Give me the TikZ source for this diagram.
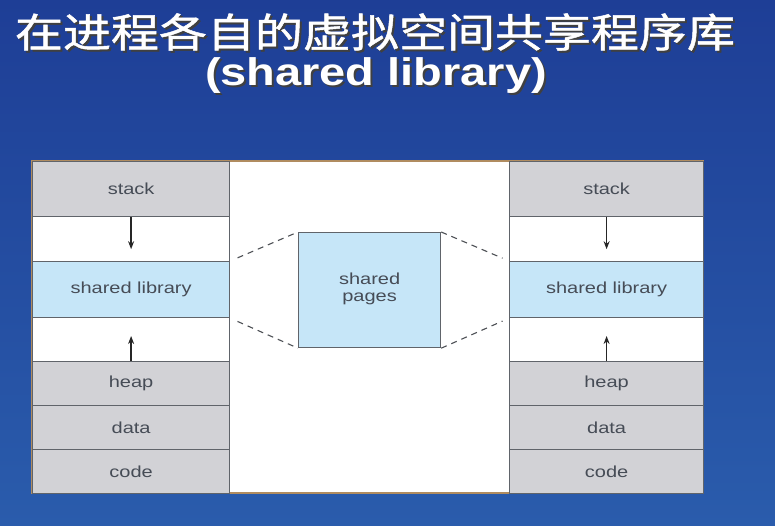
\documentclass[tikz,border=0pt]{standalone}
\usepackage{fontspec}
\usetikzlibrary{arrows.meta,positioning,calc}
\setmainfont{Liberation Sans}
\newfontfamily\cjkfont[FakeStretch=1.2,FakeBold=1.2]{Noto Sans CJK SC}
\newfontfamily\wideheadfont[FakeStretch=1.22]{Liberation Sans}
\newfontfamily\widefont[FakeStretch=1.25]{Liberation Sans}
\definecolor{bgtop}{RGB}{30,62,150}
\definecolor{bgbot}{RGB}{42,92,172}
\definecolor{segfill}{RGB}{210,210,214}
\definecolor{libfill}{RGB}{198,230,248}
\definecolor{segline}{RGB}{96,100,106}
\definecolor{segtext}{RGB}{70,76,86}
\definecolor{panelrim}{RGB}{176,140,96}
% white text with a dark drop shadow, in one box
\newcommand{\shadowed}[1]{\makebox[0pt][l]{\hspace{2pt}\raisebox{-2pt}{\color{black!75}#1}}#1}

\begin{document}
\begin{tikzpicture}[x=1pt, y=-1pt,
    seg/.style={draw=segline, line width=1.2pt, inner sep=0pt, anchor=north west,
      font=\widefont\fontsize{16}{17}\selectfont, text=segtext, align=center},
    arr/.style={-{Stealth[length=8pt,width=6pt]}, line width=1.4pt, draw=black!85},
    link/.style={draw=segline!80!black, line width=1.1pt, dash pattern=on 6pt off 5pt}]
    % background
    \shade[top color=bgtop, bottom color=bgbot] (0,0) rectangle (775,526);
    \useasboundingbox (0,0) rectangle (775,526);
    % title
    \node[white, font=\cjkfont\fontsize{40}{44}\selectfont, inner sep=0pt] (title) at (375,33) {\shadowed{在进程各自的虚拟空间共享程序库}};
    \node[white, font=\wideheadfont\bfseries\fontsize{38.5}{40}\selectfont, inner sep=0pt] (subtitle) at (376,77) {\shadowed{(shared library)}};
    % white panel
    \draw[fill=white, draw=panelrim, line width=1.2pt] (32,161) rectangle (703,493);
    % the two address spaces
    \foreach \s/\x/\w in {l/32/197, r/509/194} {
      \node[seg, fill=segfill, minimum width=\w pt, minimum height=55pt] (\s stack) at (\x,161) {stack};
      \node[seg, fill=white, minimum width=\w pt, minimum height=45pt] (\s gapa) at (\x,216) {};
      \node[seg, fill=libfill, minimum width=\w pt, minimum height=56pt] (\s shared) at (\x,261) {shared library};
      \node[seg, fill=white, minimum width=\w pt, minimum height=44pt] (\s gapb) at (\x,317) {};
      \node[seg, fill=segfill, minimum width=\w pt, minimum height=44pt] (\s heap) at (\x,361) {heap};
      \node[seg, fill=segfill, minimum width=\w pt, minimum height=44pt] (\s data) at (\x,405) {data};
      \node[seg, fill=segfill, minimum width=\w pt, minimum height=44pt] (\s code) at (\x,449) {code};
    }
    % growth arrows
    \coordinate (ldown) at ($(lstack.south)+(0,32)$);
    \coordinate (lup) at ($(lheap.north)+(0,-25)$);
    \coordinate (rdown) at ($(rstack.south)+(0,32)$);
    \coordinate (rup) at ($(rheap.north)+(0,-25)$);
    \draw[arr] (lstack.south) -- (ldown);
    \draw[arr] (lheap.north) -- (lup);
    \draw[arr] (rstack.south) -- (rdown);
    \draw[arr] (rheap.north) -- (rup);
    % shared pages in physical memory
    \node[seg, fill=libfill, minimum width=142pt, minimum height=115pt, text depth=6pt] (pages) at (298,232) {shared\\pages};
    \draw[link, shorten <=8pt] (lshared.north east) -- (pages.north west);
    \draw[link, shorten <=8pt] (lshared.south east) -- (pages.south west);
    \draw[link, shorten >=7pt] (pages.north east) -- (rshared.north west);
    \draw[link, shorten >=7pt] (pages.south east) -- (rshared.south west);
\end{tikzpicture}
\end{document}
